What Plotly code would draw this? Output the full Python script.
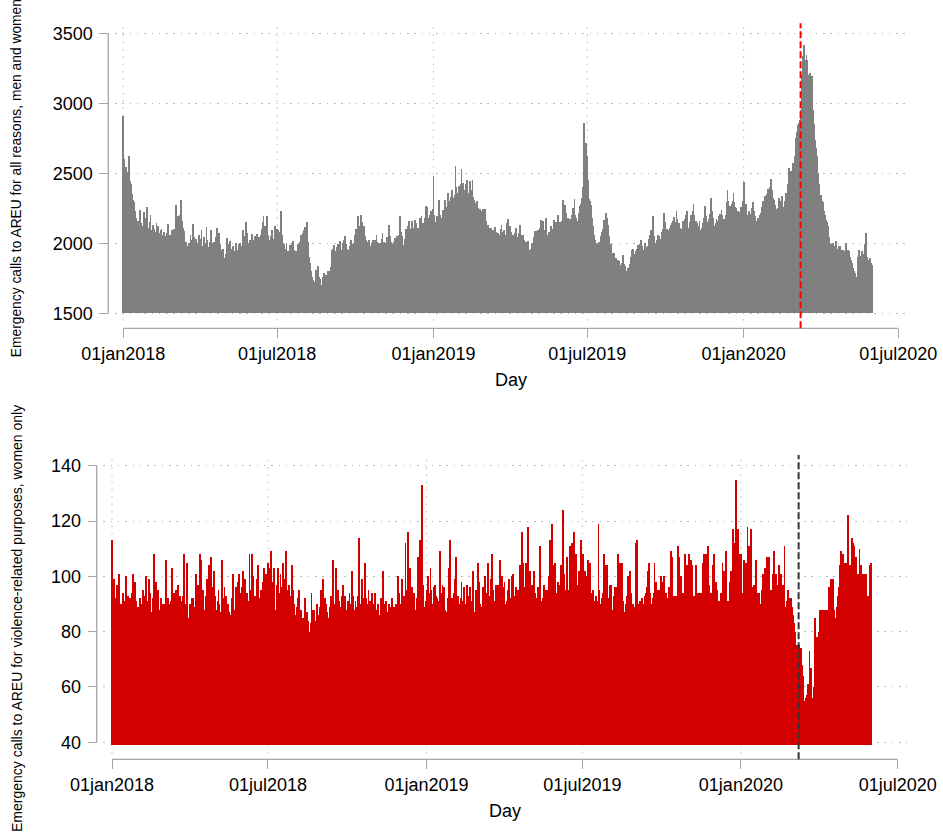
import pandas as pd
import plotly.graph_objects as go

# ---------------- data (daily values) ----------------
# Emergency calls to AREU for all reasons, men and women
all_calls_2018 = [
    2910, 2600, 2530, 2545, 2480, 2510, 2470, 2624, 2440, 2424, 2350, 2309, 2290, 2296, 2230, 2180, 2100, 2154, 2110, 2090, 2238, 2140, 2080, 2120, 2225, 2100, 2070, 2180, 2260, 2110, 2090,
    2150, 2202, 2090, 2060, 2130, 2100, 2050, 2080, 2140, 2060, 2124, 2070, 2040, 2090, 2100, 2030, 2060, 2080, 2010, 2050, 2070, 2110, 2138, 2040, 2060, 2020, 2090, 2050,
    2060, 2100, 2050, 2274, 2150, 2190, 2120, 2080, 2200, 2309, 2160, 2110, 2083, 2040, 1980, 2010, 1976, 1950, 2000, 1960, 2060, 1990, 2020, 2138, 2040, 1990, 1960, 2030, 1970, 2000, 2060,
    2030, 2010, 2090, 1980, 1960, 2040, 1990, 2000, 2114, 2020, 1970, 1950, 2010, 2090, 2000, 1960, 1940, 2010, 1990, 2040, 2107, 1980, 2030, 2071, 1990, 1950, 1920, 1960, 1880, 1893,
    1870, 1920, 2036, 1960, 1990, 1950, 2012, 1930, 1960, 1980, 1940, 1900, 1970, 2000, 1950, 1930, 1990, 2000, 1960, 1920, 1980, 2090, 1990, 2050, 2147, 2030, 2070, 2000, 1980, 2024, 1970,
    2066, 2010, 1990, 2024, 2050, 2000, 2066, 1980, 2020, 2040, 1990, 2060, 2100, 2150, 2190, 2080, 2120, 2100, 2190, 2060, 2020, 1940, 1990, 2050, 2090, 2030, 2000, 2060, 2120, 2080,
    2100, 2090, 2030, 2080, 2100, 2226, 2060, 2000, 1990, 1930, 1960, 2000, 1881, 1940, 1910, 1983, 1960, 1930, 1990, 2012, 1950, 1900, 1940, 1917, 1960, 1990, 1970, 2010, 2060, 2040, 2070,
    2090, 2060, 2114, 2080, 2147, 2010, 1960, 1900, 1857, 1800, 1760, 1738, 1700, 1680, 1720, 1810, 1790, 1836, 1760, 1740, 1726, 1700, 1670, 1760, 1786, 1740, 1720, 1774, 1750, 1800, 1780,
    1800, 1830, 1952, 1900, 1960, 1988, 1940, 1910, 1970, 1930, 1990, 1976, 2012, 1950, 1920, 1980, 2000, 2024, 2047, 1990, 1960, 1940, 1900, 1950, 1980, 2024, 1990, 1952, 2000, 2030,
    2060, 2100, 2080, 2190, 2120, 2060, 2110, 2202, 2150, 2090, 2119, 2050, 2000, 2024, 1990, 2010, 2024, 1980, 1960, 1976, 2000, 2024, 1990, 2024, 2000, 2059, 2010, 1980, 2000, 1970, 2000,
    2030, 2071, 1990, 2010, 1976, 2000, 2040, 2020, 2060, 2131, 2050, 2010, 1990, 1964, 1976, 2010, 2035, 2000, 2047, 2030, 2060, 2100, 2190, 2080, 2050, 1976, 1988, 2030, 2070, 2100,
    2090, 2120, 2155, 2080, 2100, 2060, 2155, 2110, 2071, 2166, 2120, 2143, 2100, 2107, 2060, 2178, 2120, 2190, 2140, 2100, 2143, 2180, 2262, 2200, 2257, 2180, 2150, 2200, 2230, 2180, 2240,
]
all_calls_2019 = [
    2476, 2200, 2095, 2150, 2190, 2160, 2095, 2309, 2200, 2180, 2166, 2238, 2220, 2250, 2309, 2260, 2230, 2357, 2274, 2300, 2330, 2260, 2380, 2320, 2290, 2340, 2547, 2400, 2357, 2321, 2405,
    2380, 2420, 2528, 2400, 2428, 2350, 2381, 2420, 2452, 2390, 2333, 2357, 2440, 2380, 2350, 2447, 2330, 2309, 2285, 2260, 2300, 2238, 2250, 2200, 2240, 2226, 2190, 2243,
    2200, 2170, 2243, 2160, 2100, 2131, 2080, 2060, 2110, 2107, 2050, 2090, 2060, 2114, 2040, 2080, 2050, 2071, 2030, 2060, 2100, 2131, 2050, 2080, 2095, 2060, 2030, 2090, 2140, 2171, 2100,
    2120, 2080, 2040, 2059, 2030, 2060, 2071, 2107, 2040, 2010, 2071, 2050, 2128, 2060, 2030, 2059, 2000, 2024, 1990, 2010, 1980, 2012, 1928, 1950, 1928, 1960, 2000, 1990, 2040, 2083,
    2050, 2083, 2060, 2095, 2040, 2107, 2080, 2166, 2120, 2155, 2090, 2095, 2178, 2110, 2059, 2043, 2080, 2060, 2119, 2070, 2100, 2080, 2166, 2120, 2147, 2090, 2095, 2202, 2120, 2150, 2100,
    2155, 2305, 2297, 2220, 2274, 2214, 2180, 2178, 2150, 2119, 2170, 2130, 2200, 2250, 2230, 2314, 2200, 2178, 2119, 2160, 2214, 2262, 2230, 2280, 2320, 2400, 2857, 2620, 2714, 2702,
    2619, 2450, 2314, 2300, 2240, 2274, 2180, 2120, 2060, 2024, 2000, 1990, 1976, 1950, 2010, 2000, 2047, 2080, 2100, 2130, 2166, 2150, 2214, 2180, 2110, 2131, 2050, 1976, 1990, 1928, 1900,
    1928, 1917, 1880, 1893, 1850, 1881, 1870, 1714, 1800, 1840, 1857, 1917, 1850, 1820, 1833, 1800, 1780, 1821, 1800, 1850, 1900, 1880, 1952, 1957, 1920, 1900, 1940, 1905, 1960, 1988, 1930,
    1990, 2019, 1960, 1980, 1950, 1940, 2000, 1970, 1960, 1976, 2030, 2010, 2060, 2095, 2040, 2195, 2080, 2050, 2000, 1952, 2020, 2060, 2047, 2010, 2030, 2000, 2080, 2100, 2214, 2150,
    2120, 2080, 2100, 2060, 2090, 2110, 2131, 2100, 2140, 2160, 2186, 2130, 2150, 2226, 2170, 2130, 2143, 2110, 2100, 2080, 2130, 2155, 2120, 2170, 2200, 2226, 2140, 2110, 2083, 2150, 2200,
    2180, 2230, 2281, 2200, 2150, 2160, 2140, 2124, 2100, 2160, 2090, 2067, 2110, 2140, 2180, 2200, 2262, 2190, 2150, 2131, 2170, 2210, 2250, 2321, 2230, 2180, 2120, 2095, 2140, 2170,
    2140, 2155, 2190, 2210, 2180, 2233, 2200, 2160, 2170, 2138, 2200, 2290, 2376, 2300, 2240, 2262, 2230, 2280, 2300, 2357, 2290, 2260, 2250, 2210, 2230, 2095, 2180, 2220, 2260, 2240, 2300,
]
all_calls_2020 = [
    2433, 2250, 2230, 2281, 2200, 2180, 2226, 2190, 2210, 2170, 2250, 2290, 2230, 2190, 2190, 2160, 2147, 2180, 2160, 2200, 2214, 2230, 2260, 2300, 2290, 2333, 2310, 2350, 2340, 2386, 2360,
    2400, 2457, 2380, 2350, 2320, 2309, 2270, 2240, 2214, 2250, 2290, 2321, 2280, 2300, 2338, 2260, 2202, 2250, 2300, 2357, 2330, 2420, 2536, 2480, 2470, 2512, 2500, 2571, 2560,
    2620, 2680, 2750, 2790, 2845, 2860, 2881, 2950, 3095, 3200, 3333, 3417, 3309, 3250, 3345, 3310, 3167, 3200, 3214, 3150, 3190, 3050, 2952, 2850, 2738, 2680, 2619, 2560, 2500, 2420, 2333,
    2340, 2300, 2290, 2286, 2230, 2200, 2167, 2150, 2119, 2040, 1952, 1970, 1990, 1960, 2000, 1940, 1980, 1950, 2012, 1960, 1930, 1980, 1976, 1920, 1900, 1950, 1952, 1900, 1940, 2000,
    1960, 1920, 1950, 1940, 1900, 1880, 1860, 1857, 1820, 1800, 1786, 1631, 1760, 1820, 1900, 1952, 1880, 1910, 1940, 1890, 1860, 1920, 1990, 2071, 1900, 1857, 1830, 1880, 1893, 1860, 1840,
]

# Emergency calls to AREU for violence-related purposes, women only
violence_2018 = [
    113, 104, 96, 99, 88, 92, 97, 85, 101, 95, 89, 90, 86, 94, 91, 84, 93, 100, 88, 93, 87, 92, 85, 94, 90, 101, 86, 98, 91, 82, 89,
    85, 89, 92, 87, 90, 95, 88, 93, 84, 100, 91, 86, 99, 90, 94, 87, 83, 92, 108, 89, 98, 85, 91, 95, 88, 84, 92, 90,
    84, 88, 90, 86, 106, 92, 85, 92, 87, 90, 91, 103, 86, 94, 89, 84, 95, 90, 97, 88, 93, 89, 86, 91, 93, 108, 87, 90, 105, 96, 81,
    85, 90, 88, 92, 86, 92, 89, 84, 101, 93, 97, 90, 108, 94, 106, 91, 95, 87, 88, 93, 90, 99, 92, 104, 96, 107, 90, 96, 88, 102,
    93, 79, 88, 91, 95, 90, 87, 84, 106, 92, 89, 96, 88, 93, 84, 90, 87, 86, 83, 89, 92, 101, 88, 85, 96, 90, 98, 93, 101, 89, 94,
    96, 102, 90, 88, 99, 92, 94, 87, 91, 108, 95, 89, 108, 100, 81, 93, 90, 99, 94, 104, 92, 88, 95, 91, 98, 93, 103, 95, 101, 97,
    105, 96, 103, 92, 109, 98, 94, 103, 90, 88, 85, 97, 103, 94, 91, 101, 96, 93, 105, 99, 92, 109, 95, 90, 78, 97, 93, 91, 104, 89, 95,
    90, 86, 84, 89, 92, 95, 83, 82, 88, 80, 85, 79, 92, 86, 81, 87, 84, 80, 75, 83, 94, 88, 85, 88, 81, 84, 90, 82, 86, 84, 89,
    95, 88, 99, 91, 86, 92, 90, 87, 84, 85, 89, 92, 93, 88, 106, 90, 86, 103, 94, 88, 95, 91, 87, 89, 93, 97, 90, 86, 93, 88,
    88, 91, 86, 94, 90, 87, 102, 93, 88, 82, 91, 86, 89, 93, 114, 90, 84, 88, 99, 92, 87, 105, 92, 89, 90, 95, 86, 91, 88, 94, 90,
    87, 91, 94, 88, 85, 90, 86, 85, 89, 92, 87, 102, 90, 88, 91, 84, 87, 86, 90, 84, 89, 92, 86, 88, 89, 83, 90, 87, 100, 93,
    94, 90, 88, 99, 91, 93, 87, 112, 95, 92, 116, 98, 103, 90, 95, 96, 89, 94, 88, 81, 92, 90, 107, 96, 113, 99, 133, 94, 97, 89, 87,
]
violence_2019 = [
    91, 95, 100, 88, 94, 103, 95, 90, 86, 96, 97, 89, 93, 92, 88, 91, 109, 90, 94, 97, 92, 96, 88, 84, 87, 92, 103, 95, 113, 90, 92,
    88, 94, 99, 91, 107, 89, 93, 87, 90, 92, 98, 91, 88, 96, 90, 85, 97, 91, 90, 93, 96, 88, 91, 102, 94, 87, 86, 95,
    93, 105, 91, 98, 90, 89, 88, 96, 92, 100, 90, 94, 88, 105, 93, 91, 99, 108, 92, 95, 89, 91, 97, 93, 97, 90, 92, 106, 94, 100, 96,
    93, 98, 90, 88, 91, 95, 99, 92, 89, 100, 94, 101, 90, 93, 96, 87, 91, 95, 92, 104, 94, 116, 98, 105, 96, 92, 105, 99, 118, 97,
    95, 102, 93, 97, 90, 102, 94, 87, 92, 89, 96, 93, 111, 90, 91, 88, 92, 97, 95, 90, 95, 93, 89, 100, 113, 98, 119, 96, 104, 99, 105,
    88, 94, 98, 92, 97, 99, 104, 90, 124, 101, 95, 93, 107, 98, 95, 90, 111, 100, 112, 103, 110, 116, 99, 108, 97, 93, 102, 96, 101, 113,
    104, 108, 97, 102, 94, 100, 92, 106, 98, 105, 90, 94, 88, 95, 91, 89, 93, 91, 86, 119, 95, 88, 90, 92, 94, 108, 96, 104, 89, 104, 92,
    92, 97, 90, 97, 88, 86, 93, 96, 89, 96, 91, 108, 89, 105, 92, 105, 90, 91, 87, 84, 90, 93, 100, 88, 86, 102, 94, 90, 90, 86, 89,
    93, 112, 113, 90, 85, 91, 89, 88, 92, 87, 90, 93, 94, 96, 102, 91, 105, 94, 89, 90, 92, 94, 105, 93, 98, 90, 95, 92, 95, 91,
    100, 93, 98, 100, 90, 94, 88, 92, 91, 96, 89, 109, 95, 107, 90, 93, 88, 93, 92, 111, 95, 107, 90, 100, 92, 94, 90, 108, 96, 94, 104,
    96, 108, 92, 106, 95, 104, 90, 93, 88, 104, 94, 92, 90, 94, 91, 94, 92, 105, 96, 108, 95, 108, 99, 111, 97, 93, 90, 94, 92, 104,
    108, 96, 98, 92, 95, 90, 91, 88, 94, 93, 105, 96, 102, 95, 109, 90, 91, 89, 91, 98, 102, 95, 117, 99, 112, 96, 135, 100, 117, 108, 98,
]
violence_2020 = [
    108, 96, 94, 91, 106, 93, 105, 95, 118, 97, 111, 92, 117, 96, 92, 90, 97, 93, 106, 91, 94, 89, 94, 90, 88, 95, 101, 93, 103, 101, 96,
    107, 94, 107, 92, 95, 93, 101, 96, 109, 93, 101, 94, 97, 92, 104, 95, 101, 90, 97, 93, 111, 89, 88, 91, 95, 90, 92, 88, 92,
    89, 86, 83, 80, 75, 74, 75, 73, 75, 72, 74, 68, 64, 58, 55, 54, 56, 57, 61, 55, 73, 58, 67, 56, 53, 60, 85, 70, 78, 72, 78,
    80, 88, 76, 88, 82, 88, 79, 88, 84, 88, 86, 94, 96, 90, 99, 92, 99, 87, 88, 82, 85, 89, 93, 96, 104, 98, 109, 100, 108, 103,
    105, 97, 105, 95, 122, 98, 104, 96, 114, 112, 100, 111, 97, 107, 93, 101, 95, 110, 97, 104, 92, 101, 94, 101, 93, 101, 90, 93, 88, 104, 105,
]

start_date = "2018-01-01"
lockdown_date = "2020-03-08"
x_tick_dates = ["2018-01-01", "2018-07-01", "2019-01-01", "2019-07-01", "2020-01-01", "2020-07-01"]
x_tick_text = ["01jan2018", "01jul2018", "01jan2019", "01jul2019", "01jan2020", "01jul2020"]
x_grid_dates = x_tick_dates[:-1]
top_yticks = [1500, 2000, 2500, 3000, 3500]
bot_yticks = [40, 60, 80, 100, 120, 140]
top_base = 1500
bot_base = 39
top_title = "Emergency calls to AREU for all reasons, men and women"
bot_title = "Emergency calls to AREU for violence-related purposes, women only"
x_title = "Day"

# ---------------- build series ----------------
all_calls = all_calls_2018 + all_calls_2019 + all_calls_2020
violence = violence_2018 + violence_2019 + violence_2020
days = pd.date_range(start_date, periods=len(all_calls), freq="D")
assert len(all_calls) == len(violence) == 882

# ---------------- geometry (pixels of the 943x837 canvas) ----------------
W, H = 943, 837
FONT = "Liberation Sans, Arial, Helvetica, sans-serif"
AXIS_COLOR = "#a6a6a6"
GRID_COLOR = "#b8b8b8"
GRID_DASH = "1.5px,5.8px"


def px_x(p):
    return p / W


def px_y(p):
    return 1 - p / H


def ms(d):
    return pd.Timestamp(d).value / 1e6


def to_date_str(t_ms):
    return pd.Timestamp(int(round(t_ms)), unit="ms").strftime("%Y-%m-%d %H:%M:%S")


def date_range_for(first_px, last_px, left_px, right_px):
    t0, t1 = ms(x_tick_dates[0]), ms(x_tick_dates[-1])
    k = (t1 - t0) / (last_px - first_px)
    return [to_date_str(t0 + (left_px - first_px) * k),
            to_date_str(t0 + (right_px - first_px) * k)]


def val_range_for(ticks, lo_px, hi_px, bottom_px, top_px):
    v0, v1 = min(ticks), max(ticks)
    k = (v1 - v0) / (hi_px - lo_px)
    return [v0 + (bottom_px - lo_px) * k, v0 + (top_px - lo_px) * k]


panels = [
    dict(vals=all_calls, base=top_base, color="#808080", yticks=top_yticks, title=top_title,
         left=115, right=910.7, top=23.3, bottom=320.7,
         first_px=123.3, last_px=898.3, lo_px=313.3, hi_px=33.3,
         yaxis_px=108.3, xaxis_px=328.3, ytitle=(16.7, 178.5), ytitle_size=13.8, xtitle_y=380,
         event_color="#ff0000", xa="x", ya="y"),
    dict(vals=violence, base=bot_base, color="#d40000", yticks=bot_yticks, title=bot_title,
         left=103.3, right=907.3, top=455, bottom=753.3,
         first_px=112, last_px=897.7, lo_px=742.3, hi_px=465.7,
         yaxis_px=96.7, xaxis_px=759.3, ytitle=(17, 619), ytitle_size=14, xtitle_y=810.5,
         event_color="#333333", xa="x2", ya="y2"),
]

fig = go.Figure()
shapes = []
annotations = []
layout = {}

for i, p in enumerate(panels):
    fig.add_trace(go.Bar(
        x=days, y=[v - p["base"] for v in p["vals"]], base=p["base"],
        width=86400000, marker=dict(color=p["color"], line=dict(width=0)),
        xaxis=p["xa"], yaxis=p["ya"], showlegend=False,
        hovertemplate="%{x|%d%b%Y}: %{customdata}<extra></extra>", customdata=p["vals"],
    ))
    xkey = "xaxis" if i == 0 else "xaxis2"
    ykey = "yaxis" if i == 0 else "yaxis2"
    layout[xkey] = dict(
        type="date", autorange=False,
        domain=[px_x(p["left"]), px_x(p["right"])],
        range=date_range_for(p["first_px"], p["last_px"], p["left"], p["right"]),
        anchor="free", position=px_y(p["xaxis_px"]), automargin=False,
        tickmode="array", tickvals=x_tick_dates, ticktext=x_tick_text,
        ticks="outside", ticklen=9, tickwidth=1.3, tickcolor=AXIS_COLOR,
        showline=False, showgrid=False, zeroline=False,
        tickfont=dict(family=FONT, size=18, color="black"),
    )
    layout[ykey] = dict(
        autorange=False,
        domain=[px_y(p["bottom"]), px_y(p["top"])],
        range=val_range_for(p["yticks"], p["lo_px"], p["hi_px"], p["bottom"], p["top"]),
        anchor="free", position=px_x(p["yaxis_px"]), side="left", automargin=False,
        tickmode="array", tickvals=p["yticks"],
        ticks="outside", ticklen=9, tickwidth=1.3, tickcolor=AXIS_COLOR,
        ticklabelstandoff=3,
        showline=False, showgrid=True, gridcolor=GRID_COLOR, gridwidth=1, griddash=GRID_DASH,
        zeroline=False,
        tickfont=dict(family=FONT, size=18, color="black"),
    )
    ydom = p["ya"] + " domain"
    # vertical dotted grid lines (none at the last tick)
    for d in x_grid_dates:
        shapes.append(dict(type="line", xref=p["xa"], yref=ydom, x0=d, x1=d, y0=0, y1=1,
                           line=dict(color=GRID_COLOR, width=1, dash=GRID_DASH), layer="below"))
    # axis lines spanning the tick range
    shapes.append(dict(type="line", xref="paper", yref=p["ya"],
                       x0=px_x(p["yaxis_px"]), x1=px_x(p["yaxis_px"]),
                       y0=min(p["yticks"]), y1=max(p["yticks"]),
                       line=dict(color=AXIS_COLOR, width=1.3), layer="above"))
    shapes.append(dict(type="line", xref=p["xa"], yref="paper",
                       x0=x_tick_dates[0], x1=x_tick_dates[-1],
                       y0=px_y(p["xaxis_px"]), y1=px_y(p["xaxis_px"]),
                       line=dict(color=AXIS_COLOR, width=1.3), layer="above"))
    # lockdown marker
    shapes.append(dict(type="line", xref=p["xa"], yref="paper",
                       x0=lockdown_date, x1=lockdown_date,
                       y0=px_y(p["xaxis_px"]), y1=px_y(p["top"]),
                       line=dict(color=p["event_color"], width=2, dash="7px,3px"), layer="above"))
    annotations.append(dict(text=p["title"], textangle=-90, xref="paper", yref="paper",
                            x=px_x(p["ytitle"][0]), y=px_y(p["ytitle"][1]),
                            xanchor="center", yanchor="middle", showarrow=False,
                            font=dict(family=FONT, size=p["ytitle_size"], color="black")))
    annotations.append(dict(text=x_title, xref="paper", yref="paper",
                            x=px_x((p["first_px"] + p["last_px"]) / 2), y=px_y(p["xtitle_y"]),
                            xanchor="center", yanchor="middle", showarrow=False,
                            font=dict(family=FONT, size=18, color="black")))

fig.update_layout(
    width=W, height=H, margin=dict(l=0, r=0, t=0, b=0, pad=0, autoexpand=False),
    paper_bgcolor="white", plot_bgcolor="white",
    bargap=0, showlegend=False,
    shapes=shapes, annotations=annotations,
    **layout,
)

fig.write_html("out.html", config={"displayModeBar": False},
               post_script="document.body.style.margin='0px';")
